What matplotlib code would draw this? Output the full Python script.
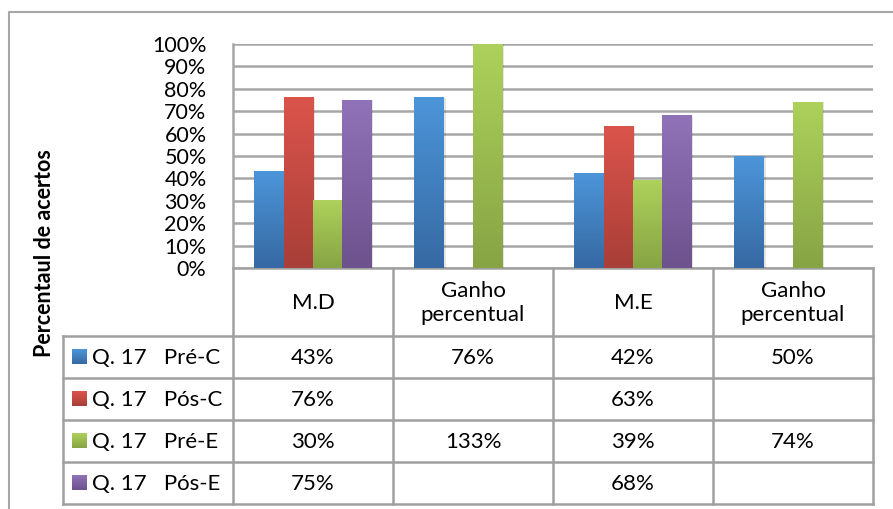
import matplotlib.pyplot as plt
import numpy as np
from matplotlib.colors import LinearSegmentedColormap

plt.rcParams['font.family'] = ['Lato', 'DejaVu Sans']

categories = ["M.D", "Ganho\npercentual", "M.E", "Ganho\npercentual"]
series_names = ["Q. 17   Pré-C", "Q. 17   Pós-C", "Q. 17   Pré-E", "Q. 17   Pós-E"]
pre_c = [43, 76, 42, 50]
pos_c = [76, np.nan, 63, np.nan]
pre_e = [30, 133, 39, 74]
pos_e = [75, np.nan, 68, np.nan]
ytick_vals = [0, 10, 20, 30, 40, 50, 60, 70, 80, 90, 100]

series = [pre_c, pos_c, pre_e, pos_e]
# (top colour, bottom colour) of the Excel gradient
grads = [("#4C95D9", "#3669A3"), ("#DB544B", "#A83F38"),
         ("#ADD15B", "#87A444"), ("#9072B8", "#6D528E")]

W, H = 893, 509
fig = plt.figure(figsize=(W / 100, H / 100), dpi=100)

bg = fig.add_axes([0, 0, 1, 1])
bg.set_xlim(0, W)
bg.set_ylim(H, 0)
bg.axis('off')

ax = fig.add_axes([233 / W, 1 - 268 / H, 640 / W, 224 / H])
ax.set_xlim(-0.5, 3.5)
ax.set_ylim(0, 100)

bw = 0.183
x = np.arange(len(categories))
for i, vals in enumerate(series):
    cmap = LinearSegmentedColormap.from_list("g%d" % i, [grads[i][1], grads[i][0]])
    grad = np.linspace(0, 1, 100).reshape(-1, 1)
    bars = ax.bar(x + (i - 1.5) * bw, vals, bw, color='none', zorder=3)
    for p in bars:
        h = p.get_height()
        if np.isnan(h):
            continue
        x0 = p.get_x()
        top = min(h, 100)
        # soft shadow
        ax.add_patch(plt.Rectangle((x0 + 0.012, 0), bw, top, color='#000000',
                                   alpha=0.10, lw=0, zorder=2.5, clip_on=True))
        ax.imshow(grad, extent=[x0, x0 + bw, 0, top], origin='lower', cmap=cmap,
                  aspect='auto', zorder=3)
ax.set_xlim(-0.5, 3.5)
ax.set_ylim(0, 100)

ax.set_yticks(ytick_vals)
ax.set_yticklabels(["%d%%" % v for v in ytick_vals], fontsize=15.5)
ax.set_xticks([])
ax.tick_params(axis='y', length=0, pad=19)
ax.grid(axis='y', color='#A6A6A6', lw=1.8, zorder=1)
for s in ['top', 'right', 'bottom']:
    ax.spines[s].set_visible(False)
ax.spines['left'].set_color('#A6A6A6')
ax.spines['left'].set_linewidth(1.8)
ax.set_facecolor('none')

bg.text(45, 253, "Percentaul de acertos", rotation=90, ha='center', va='center',
        fontsize=15.5, fontweight='bold')

# outer chart frame
bg.plot([9, 9, W], [H, 12, 12], color='#A6A6A6', lw=1.5)

# data table
col_x = [63, 233, 393, 553, 713, 873]
row_y = [268, 336, 378, 420, 462, 504]
lc = '#A0A0A0'
lw = 1.8
bg.plot([233, 873], [268, 268], color=lc, lw=lw)
bg.plot([63, 873], [336, 336], color=lc, lw=lw)
for y in row_y[2:]:
    bg.plot([63, 873], [y, y], color=lc, lw=lw)
bg.plot([63, 63], [336, 504], color=lc, lw=lw)
for cx in col_x[1:]:
    bg.plot([cx, cx], [268, 504], color=lc, lw=lw)

fs = 16
for j, cat in enumerate(categories):
    cx = (col_x[j + 1] + col_x[j + 2]) / 2
    bg.text(cx, 303, cat, ha='center', va='center', fontsize=fs, linespacing=1.3)

for i, vals in enumerate(series):
    cy = (row_y[i + 1] + row_y[i + 2]) / 2
    cmap = LinearSegmentedColormap.from_list("l%d" % i, [grads[i][1], grads[i][0]])
    bg.imshow(np.linspace(0, 1, 50).reshape(-1, 1), extent=[72, 87, cy + 7.5, cy - 7.5],
              origin='lower', cmap=cmap, aspect='auto')
    bg.text(92, cy + 1, series_names[i], ha='left', va='center', fontsize=fs)
    for j, v in enumerate(vals):
        if np.isnan(v):
            continue
        cx = (col_x[j + 1] + col_x[j + 2]) / 2
        bg.text(cx, cy + 1, "%d%%" % v, ha='center', va='center', fontsize=fs)
bg.set_xlim(0, W)
bg.set_ylim(H, 0)

fig.savefig("out.png", dpi=100)
